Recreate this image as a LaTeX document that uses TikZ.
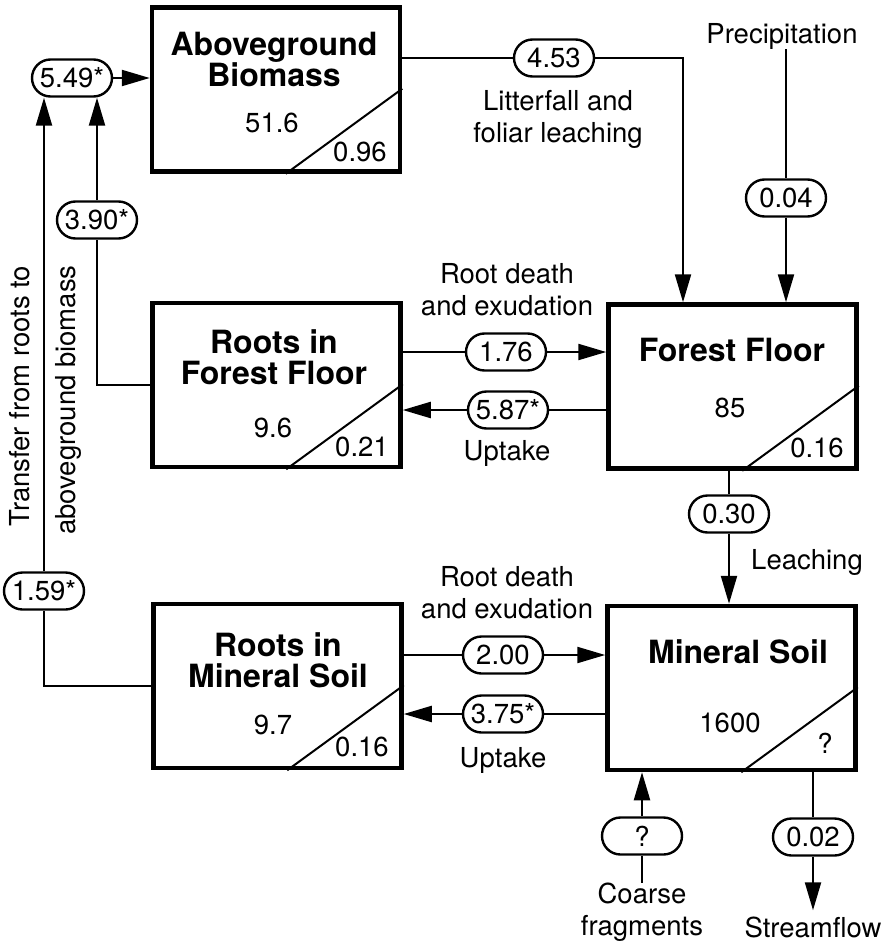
\documentclass[tikz,border=0pt]{standalone}
\usepackage{fontspec}
\setmainfont{TeX Gyre Heros}
\usetikzlibrary{shapes.misc,arrows.meta,calc}
\begin{document}
\begin{tikzpicture}[x=1pt,y=-1pt,
  every node/.style={inner sep=0pt, font=\fontsize{27.5}{32}\selectfont, align=center},
  box/.style={draw, line width=4.5pt, minimum width=248pt, minimum height=164pt},
  title/.style={font=\fontsize{32}{31}\selectfont\bfseries},
  pill/.style={draw, rounded rectangle, line width=2.4pt, minimum width=86pt, minimum height=37pt, inner xsep=3pt},
  conn/.style={line width=2.2pt},
  arr/.style={line width=2.2pt, -{Triangle[length=28pt,width=16pt]}},
  diag/.style={line width=2pt}
]
\useasboundingbox (0,0) rectangle (885,942);

% boxes
\node[box] (ab)  at (276,89.5) {};
\node[box] (rff) at (276.5,385) {};
\node[box] (ff)  at (732.5,386.5) {};
\node[box] (ms)  at (731.5,688) {};
\node[box] (rms) at (277.5,686) {};

\foreach \b in {ab,rff,ff,ms,rms}{
  \draw[diag] ($(\b.south west)+(136,0)$) -- ($(\b.south east)+(0,-85)$);
}

% box texts
\node[title] (abt) at (274,59.5) {Aboveground\\Biomass};
\node (abv) at (272,123) {51.6};
\node (abr) at (360,152) {0.96};

\node[title] (rfft) at (274,357.5) {Roots in\\Forest Floor};
\node (rffv) at (273,428) {9.6};
\node (rffr) at (362,447) {0.21};

\node[title] (fft) at (732,350) {Forest Floor};
\node (ffv) at (730,408) {85};
\node (ffr) at (817,448) {0.16};

\node[title] (mst) at (738,652) {Mineral Soil};
\node (msv) at (730,723) {1600};
\node (msr) at (825,743) {?};

\node[title] (rmst) at (278,660) {Roots in\\Mineral Soil};
\node (rmsv) at (273,725) {9.7};
\node (rmsr) at (362,747) {0.16};

% pills
\node[pill] (p549) at (72,78) {5.49*};
\node[pill] (p390) at (97,220) {3.90*};
\node[pill] (p453) at (554,58) {4.53};
\node[pill] (p004) at (786,198) {0.04};
\node[pill] (p176) at (506,352) {1.76};
\node[pill] (p587) at (508,410) {5.87*};
\node[pill] (p030) at (729,514) {0.30};
\node[pill] (p200) at (503,655) {2.00};
\node[pill] (p375) at (503,714) {3.75*};
\node[pill] (p159) at (44,591) {1.59*};
\node[pill] (pq)   at (642,836) {?};
\node[pill] (p002) at (813,837) {0.02};

% labels
\node (lit) at (558,119) {Litterfall and\\foliar leaching};
\node (prec) at (782,36) {Precipitation};
\node (rd1) at (507,290) {Root death\\and exudation};
\node (up1) at (507,453) {Uptake};
\node (leach) at (807,562) {Leaching};
\node (rd2) at (507,592.5) {Root death\\and exudation};
\node (up2) at (503,760) {Uptake};
\node[rotate=90] (tr1) at (20,396) {Transfer from roots to};
\node[rotate=90] (tr2) at (68,400) {aboveground biomass};
\node (coarse) at (642,912) {Coarse\\fragments};
\node (stream) at (813,927) {Streamflow};

\coordinate (lfx) at (683,0);

% connectors
\draw[arr] (p549.east) -- (p549.east -| ab.west);
\draw[conn] (rms.west) -| (p159.south);
\draw[arr] (p159.north) -- (p159.north |- p549.south);
\draw[conn] (rff.west) -| (p390.south);
\draw[arr] (p390.north) -- (p390.north |- p549.south);

\draw[conn] (p453.west -| ab.east) -- (p453.west);
\draw[arr] (p453.east) -| (lfx |- ff.north);

\draw[conn] (p004.north |- prec.south) -- (p004.north);
\draw[arr] (p004.south) -- (p004.south |- ff.north);

\draw[conn] (p176.west -| rff.east) -- (p176.west);
\draw[arr] (p176.east) -- (p176.east -| ff.west);
\draw[conn] (p587.east -| ff.west) -- (p587.east);
\draw[arr] (p587.west) -- (p587.west -| rff.east);

\draw[conn] (p030.north |- ff.south) -- (p030.north);
\draw[arr] (p030.south) -- (p030.south |- ms.north);

\draw[conn] (p200.west -| rms.east) -- (p200.west);
\draw[arr] (p200.east) -- (p200.east -| ms.west);
\draw[conn] (p375.east -| ms.west) -- (p375.east);
\draw[arr] (p375.west) -- (p375.west -| rms.east);

\draw[conn] (pq.south |- coarse.north) -- (pq.south);
\draw[arr] (pq.north) -- (pq.north |- ms.south);

\draw[conn] (p002.north |- ms.south) -- (p002.north);
\draw[arr] (p002.south) -- ($(p002.south |- stream.north)+(0,-6)$);
\end{tikzpicture}
\end{document}
